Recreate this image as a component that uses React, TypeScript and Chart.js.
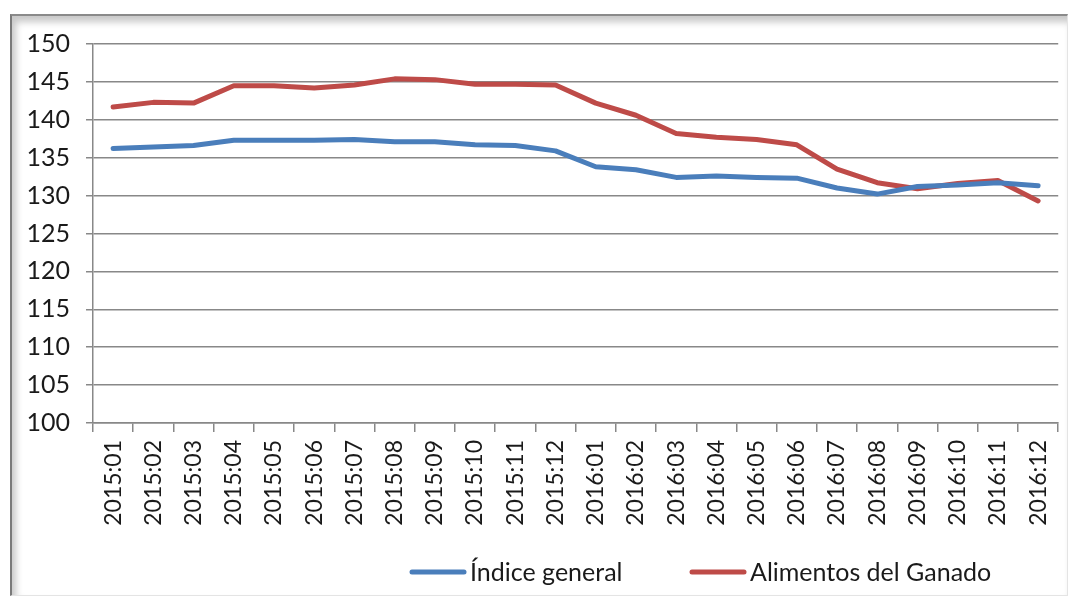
import React, { useEffect, useRef } from "react";
import { Chart, registerables } from "chart.js";

Chart.register(...registerables);

const categories = [
  "2015:01", "2015:02", "2015:03", "2015:04", "2015:05", "2015:06",
  "2015:07", "2015:08", "2015:09", "2015:10", "2015:11", "2015:12",
  "2016:01", "2016:02", "2016:03", "2016:04", "2016:05", "2016:06",
  "2016:07", "2016:08", "2016:09", "2016:10", "2016:11", "2016:12",
];

const indiceGeneral = [
  136.2, 136.4, 136.6, 137.3, 137.3, 137.3, 137.4, 137.1, 137.1, 136.7, 136.6, 135.9,
  133.8, 133.4, 132.4, 132.6, 132.4, 132.3, 131.0, 130.2, 131.2, 131.4, 131.7, 131.3,
];

const alimentosGanado = [
  141.7, 142.3, 142.2, 144.5, 144.5, 144.2, 144.6, 145.4, 145.3, 144.7, 144.7, 144.6,
  142.2, 140.6, 138.2, 137.7, 137.4, 136.7, 133.5, 131.7, 130.9, 131.6, 132.0, 129.3,
];

const seriesNames = ["Índice general", "Alimentos del Ganado"];
const seriesColors = ["#4a7ebb", "#be4b48"];

const yMin = 100;
const yMax = 150;
const yStep = 5;

const FONT = "Lato, 'Open Sans', sans-serif";

const legendPlugin = {
  id: "excelLegend",
  afterDraw(chart: any) {
    const ctx = chart.ctx as CanvasRenderingContext2D;
    const starts = [410, 690];
    const y = 572;
    ctx.save();
    ctx.font = `25px ${FONT}`;
    ctx.textBaseline = "middle";
    ctx.textAlign = "left";
    chart.data.datasets.forEach((ds: any, i: number) => {
      const x = starts[i];
      ctx.strokeStyle = ds.borderColor;
      ctx.lineWidth = 5;
      ctx.lineCap = "round";
      ctx.beginPath();
      ctx.moveTo(x + 2, y);
      ctx.lineTo(x + 54, y);
      ctx.stroke();
      ctx.fillStyle = "#1a1a1a";
      ctx.fillText(ds.label, x + 60, y + 1);
    });
    ctx.restore();
  },
};

export default function App() {
  const canvasRef = useRef<HTMLCanvasElement | null>(null);

  useEffect(() => {
    if (!canvasRef.current) return;
    const chart = new Chart(canvasRef.current, {
      type: "line",
      data: {
        labels: categories,
        datasets: [
          {
            label: seriesNames[0],
            data: indiceGeneral,
            borderColor: seriesColors[0],
            backgroundColor: seriesColors[0],
            borderWidth: 5,
            pointRadius: 0,
            tension: 0,
            borderCapStyle: "round",
            borderJoinStyle: "round",
          },
          {
            label: seriesNames[1],
            data: alimentosGanado,
            borderColor: seriesColors[1],
            backgroundColor: seriesColors[1],
            borderWidth: 5,
            pointRadius: 0,
            tension: 0,
            borderCapStyle: "round",
            borderJoinStyle: "round",
          },
        ],
      },
      options: {
        responsive: false,
        animation: false,
        layout: { padding: { top: 44, right: 14, left: 0, bottom: 0 } },
        plugins: {
          legend: { display: false },
          tooltip: { enabled: false },
        },
        scales: {
          x: {
            type: "category",
            offset: true,
            afterFit: (scale: any) => {
              scale.height = 179;
            },
            border: { display: true, color: "#888888", width: 1.5 },
            grid: {
              offset: true,
              drawOnChartArea: false,
              drawTicks: true,
              tickLength: 9,
              color: "#888888",
              lineWidth: 1.5,
            },
            ticks: {
              autoSkip: false,
              maxRotation: 90,
              minRotation: 90,
              padding: 8,
              color: "#1a1a1a",
              font: { family: FONT, size: 23 },
            },
          },
          y: {
            min: yMin,
            max: yMax,
            afterFit: (scale: any) => {
              scale.width = 93;
            },
            border: { display: true, color: "#888888", width: 1.5 },
            grid: {
              color: "#888888",
              lineWidth: 1.5,
              drawTicks: true,
              tickLength: 7,
            },
            ticks: {
              stepSize: yStep,
              padding: 16,
              color: "#1a1a1a",
              font: { family: FONT, size: 25 },
            },
          },
        },
      },
      plugins: [legendPlugin],
    });
    return () => chart.destroy();
  }, []);

  return (
    <div
      style={{
        position: "absolute",
        left: 0,
        top: 0,
        width: 1074,
        height: 602,
        background: "#ffffff",
        overflow: "hidden",
      }}
    >
      <div
        style={{
          position: "absolute",
          left: 10,
          top: 14,
          width: 1058,
          height: 582,
          boxSizing: "border-box",
          borderLeft: "2px solid #7a7a7a",
          borderTop: "2px solid #8a8a8a",
          borderRight: "1px solid #e4e4e4",
          borderBottom: "1px solid #e4e4e4",
          boxShadow: "inset 4px 6px 7px rgba(0,0,0,0.22)",
        }}
      />
      <canvas
        ref={canvasRef}
        width={1074}
        height={602}
        style={{ position: "absolute", left: 0, top: 0, display: "block" }}
      />
    </div>
  );
}
